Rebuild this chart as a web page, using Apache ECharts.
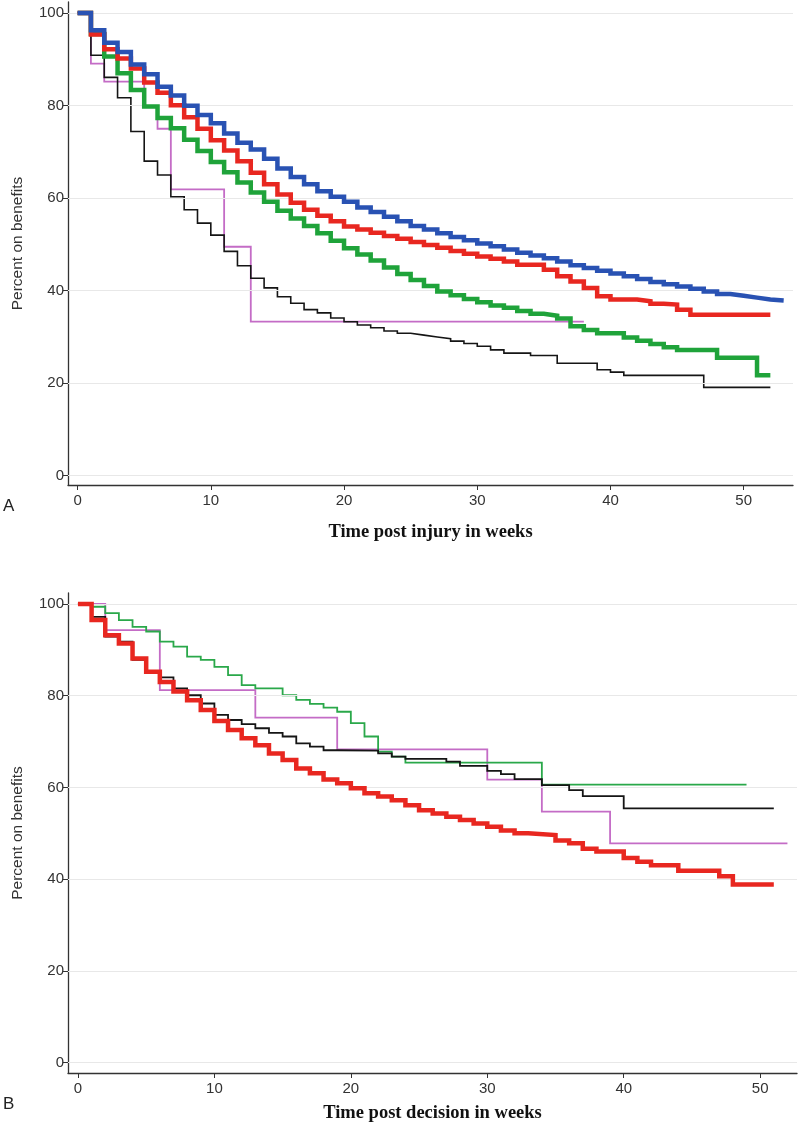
<!DOCTYPE html>
<html>
<head>
<meta charset="utf-8">
<script src="https://cdn.jsdelivr.net/npm/echarts@6/dist/echarts.min.js"></script>
<style>
html,body{margin:0;padding:0;background:#fff;}
#chart{width:800px;height:1124px;}
</style>
</head>
<body>
<div id="chart"></div>
<script>
// ---------- shared ticks and titles ----------
const xTicks = [0, 10, 20, 30, 40, 50];
const yTicks = [0, 20, 40, 60, 80, 100];
const panelATitle = 'Time post injury in weeks';
const panelBTitle = 'Time post decision in weeks';
const yTitle = 'Percent on benefits';

// ---------- Panel A: time post injury ([week, percent]) ----------
const injuryBlue = [[0,100],[1,96.3],[2,93.6],[3,91.6],[4,88.9],[5,86.8],[6,84.1],[7,82.2],[8,80],[9,78],[10,76.2],[11,74],[12,72],[13,70.5],[14,68.5],[15,66.4],[16,64.6],[17,63],[18,61.5],[19,60.3],[20,59.2],[21,58],[22,57],[23,56],[24,55],[25,54],[26,53.2],[27,52.4],[28,51.6],[29,50.9],[30,50.2],[31,49.6],[32,48.9],[33,48.2],[34,47.6],[35,47],[36,46.3],[37,45.5],[38,44.9],[39,44.3],[40,43.7],[41,43.1],[42,42.5],[43,41.9],[44,41.4],[45,40.9],[46,40.4],[47,39.8],[48,39.3],[49,38.9],[50,38.5],[51,38.1],[52,37.9],[53,37.8]];
const injuryRed = [[0,100],[1,95.4],[2,92.2],[3,90.2],[4,88],[5,85],[6,82.8],[7,80.1],[8,77.5],[9,75],[10,72.5],[11,70.3],[12,68],[13,65.5],[14,63],[15,60.8],[16,59],[17,57.5],[18,56.2],[19,55],[20,53.9],[21,53.2],[22,52.5],[23,51.8],[24,51.2],[25,50.5],[26,49.9],[27,49.3],[28,48.6],[29,48],[30,47.4],[31,46.9],[32,46.3],[33,45.6],[35,44.5],[36,43.1],[37,42],[38,40.6],[39,38.8],[40,38.1],[42,37.7],[43,37.2],[44,37],[45,35.9],[46,34.8],[52,34.8]];
const injuryGreen = [[0,100],[1,95.5],[2,90.6],[3,87],[4,83.4],[5,79.8],[6,77.3],[7,75.1],[8,72.6],[9,70.2],[10,67.8],[11,65.6],[12,63.4],[13,61.2],[14,59.2],[15,57.3],[16,55.6],[17,54],[18,52.4],[19,50.8],[20,49.2],[21,47.8],[22,46.5],[23,45],[24,43.6],[25,42.3],[26,41],[27,39.8],[28,39],[29,38.2],[30,37.5],[31,36.8],[32,36.3],[33,35.6],[34,35],[35,34.6],[36,34],[37,32.3],[38,31.5],[39,30.8],[41,29.9],[42,29.2],[43,28.5],[44,27.8],[45,27.2],[48,25.5],[51,21.7],[52,21.7]];
const injuryBlack = [[0,100],[1,90.9],[2,86.1],[3,81.7],[4,74.4],[5,68],[6,65],[7,60.3],[8,57.5],[9,54.6],[10,52],[11,48.5],[12,45.4],[13,42.7],[14,40.6],[15,38.7],[16,37.3],[17,35.9],[18,35.2],[19,34.1],[20,33.3],[21,32.6],[22,32],[23,31.3],[24,30.8],[25,30.4],[26,30],[27,29.6],[28,29.1],[29,28.6],[30,28],[31,27.2],[32,26.5],[34,26],[36,24.3],[39,22.9],[40,22.4],[41,21.7],[47,19.1],[52,19.1]];
const injuryMagenta = [[0,100],[1,89.1],[2,85.2],[5,79.8],[6,75],[7,61.9],[11,49.5],[13,33.3],[38,33.3]];

// ---------- Panel B: time post decision ([week, percent]) ----------
const decisionRed = [[0,100],[1,96.5],[2,93.2],[3,91.4],[4,88.1],[5,85.2],[6,83],[7,80.9],[8,79],[9,76.9],[10,74.5],[11,72.5],[12,70.7],[13,69.2],[14,67.4],[15,66],[16,64.1],[17,63.1],[18,61.7],[19,60.9],[20,59.8],[21,58.7],[22,58],[23,57.2],[24,56.1],[25,55],[26,54.3],[27,53.6],[28,52.9],[29,52.1],[30,51.4],[31,50.6],[32,50],[33,49.6],[35,48.4],[36,47.8],[37,46.6],[38,46],[40,44.6],[41,43.8],[42,43],[44,41.8],[47,40.6],[48,38.8],[51,38.8]];
const decisionBlack = [[0,100],[1,97.2],[2,92.9],[3,91.8],[4,87.8],[5,85.2],[6,84],[7,81.6],[8,80.1],[9,78.3],[10,75.8],[11,74.7],[12,73.8],[13,72.9],[14,71.9],[15,71.1],[16,69.6],[17,68.9],[18,68.1],[19,68],[22,67.4],[23,66.7],[24,66.2],[27,65.6],[28,64.7],[30,63.6],[31,62.9],[32,61.8],[34,60.5],[36,59.4],[37,58.1],[40,55.4],[51,55.4]];
const decisionGreen = [[0,100],[1,99.4],[2,98],[3,96.5],[4,95],[5,94],[6,91.8],[7,90.7],[8,88.5],[9,87.8],[10,86.3],[11,84.5],[12,82.3],[13,81.6],[15,80.1],[16,79.1],[17,78.2],[18,77.4],[19,76.5],[20,74],[21,71.1],[22,67.8],[23,66.7],[24,65.4],[34,60.6],[49,60.6]];
const decisionMagenta = [[0,100],[2,94.3],[6,81.2],[13,75.2],[19,68.3],[30,61.7],[34,54.7],[39,47.8],[52,47.8]];

const C = {
  blue: '#2952b3', red: '#e82720', green: '#1fa33a', black: '#151515', magenta: '#c46cc6', greenThin: '#2aa84a'
};
const tickFont = { fontFamily: 'Liberation Sans, Arial, sans-serif', fontSize: 15, color: '#333' };

function xAxisCfg(gridIndex, min, max, name, gap) {
  return {
    type: 'value', gridIndex, min, max, name, nameLocation: 'middle', nameGap: gap,
    nameTextStyle: { fontFamily: 'Liberation Serif, Times New Roman, serif', fontWeight: 'bold', fontSize: 18.5, color: '#111' },
    axisLine: { show: true, onZero: false, lineStyle: { color: '#333', width: 1.3 } },
    axisTick: { show: true, length: 5, customValues: xTicks, lineStyle: { color: '#333' } },
    axisLabel: Object.assign({ customValues: xTicks, margin: 8 }, tickFont),
    splitLine: { show: false }
  };
}
function yAxisCfg(gridIndex, min, max) {
  return {
    type: 'value', gridIndex, min, max, name: yTitle, nameLocation: 'middle', nameGap: 42,
    nameTextStyle: { fontFamily: 'Liberation Sans, Arial, sans-serif', fontSize: 15.5, color: '#333' },
    axisLine: { show: true, onZero: false, lineStyle: { color: '#333', width: 1.3 } },
    axisTick: { show: true, length: 5, customValues: yTicks, lineStyle: { color: '#333' } },
    axisLabel: Object.assign({ customValues: yTicks, margin: 4 }, tickFont),
    splitLine: { show: false }
  };
}
function stepSeries(data, color, width, xi, z) {
  return {
    type: 'line', step: 'end', data, xAxisIndex: xi, yAxisIndex: xi,
    showSymbol: false, symbol: 'none', z, animation: false,
    lineStyle: { color, width, join: 'miter', cap: 'butt' }
  };
}
function gridSeries(xi) {
  return {
    type: 'line', data: [], xAxisIndex: xi, yAxisIndex: xi, z: 1, silent: true,
    markLine: {
      silent: true, symbol: ['none', 'none'], label: { show: false }, animation: false,
      lineStyle: { color: '#e8e8e8', width: 1.2, type: 'solid' },
      data: yTicks.map(v => ({ yAxis: v }))
    }
  };
}

const chart = echarts.init(document.getElementById('chart'), null, { renderer: 'canvas' });
chart.setOption({
  backgroundColor: '#fff',
  animation: false,
  grid: [
    { left: 68, width: 725, top: 2, height: 483 },
    { left: 68, width: 729, top: 593, height: 480 }
  ],
  xAxis: [
    xAxisCfg(0, -0.72, 53.7, panelATitle, 38),
    xAxisCfg(1, -0.73, 52.7, panelBTitle, 31)
  ],
  yAxis: [
    yAxisCfg(0, -2.0, 102.4),
    yAxisCfg(1, -2.3, 102.4)
  ],
  graphic: [
    { type: 'text', left: 3, top: 498, style: { text: 'A', font: '17px Liberation Sans, Arial, sans-serif', fill: '#222' } },
    { type: 'text', left: 3, top: 1096, style: { text: 'B', font: '17px Liberation Sans, Arial, sans-serif', fill: '#222' } }
  ],
  series: [
    gridSeries(0),
    stepSeries(injuryMagenta, C.magenta, 1.8, 0, 3),
    stepSeries(injuryBlack, C.black, 1.6, 0, 4),
    stepSeries(injuryGreen, C.green, 4.5, 0, 5),
    stepSeries(injuryRed, C.red, 4.5, 0, 6),
    stepSeries(injuryBlue, C.blue, 4.5, 0, 7),
    gridSeries(1),
    stepSeries(decisionMagenta, C.magenta, 1.8, 1, 3),
    stepSeries(decisionGreen, C.greenThin, 1.8, 1, 4),
    stepSeries(decisionBlack, C.black, 1.8, 1, 5),
    stepSeries(decisionRed, C.red, 4.5, 1, 6)
  ]
});
</script>
</body>
</html>
